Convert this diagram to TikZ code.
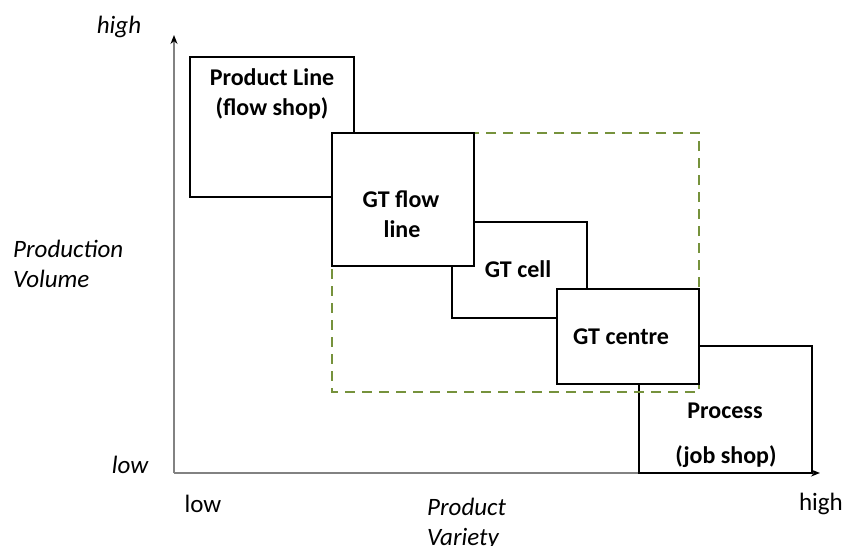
\documentclass[tikz,border=0pt]{standalone}
\usepackage{fontspec}
\setmainfont{Carlito}
\usetikzlibrary{arrows.meta}
\definecolor{scopegreen}{RGB}{118,146,60}
\definecolor{axisgray}{RGB}{130,130,130}
\begin{document}
\begin{tikzpicture}[x=1pt,y=-1pt,
  stage/.style={draw=black, line width=2.3pt, fill=white},
  axisline/.style={draw=axisgray, line width=1.4pt, -{Stealth[length=9pt,width=7pt,black]}},
  scopebox/.style={draw=scopegreen, line width=2.3pt, dash pattern=on 10pt off 7pt},
  stagetext/.style={font=\fontsize{24}{30}\selectfont\bfseries, inner sep=0pt},
  axistext/.style={font=\fontsize{25}{30}\selectfont\itshape, inner sep=0pt},
  ticktext/.style={font=\fontsize{25}{30}\selectfont, inner sep=0pt}]
\useasboundingbox (0,0) rectangle (847,546);

% axes
\coordinate (origin) at (174,473);
\coordinate (ytip) at (174,35);
\coordinate (xtip) at (820,473);
\draw[axisline] (origin) -- (ytip);
\draw[axisline] (origin) -- (xtip);

% stages, back to front
\draw[stage] (190,57) rectangle (354,197);
\draw[stage] (639,346) rectangle (812,473);
\draw[stage] (452,222) rectangle (587,318);
\draw[scopebox] (332,133) rectangle (699,392);
\draw[stage] (332,133) rectangle (474,266);
\draw[stage] (557,289) rectangle (699,384);

% stage labels
\node[stagetext, anchor=base] (pl1) at (272,85) {Product Line};
\node[stagetext, anchor=base] (pl2) at (272,115) {(flow shop)};
\node[stagetext, anchor=base] (fl1) at (401,207) {GT flow};
\node[stagetext, anchor=base] (fl2) at (402,237) {line};
\node[stagetext, anchor=base] (cell) at (518,277) {GT cell};
\node[stagetext, anchor=base] (centre) at (621,344) {GT centre};
\node[stagetext, anchor=base] (pr1) at (725,418) {Process};
\node[stagetext, anchor=base] (pr2) at (726,463) {(job shop)};

% axis labels
\node[axistext, anchor=base] (yhigh) at (119,33) {high};
\node[axistext, anchor=base] (ylow) at (130,473) {low};
\node[axistext, anchor=base west] (yname1) at (13,257) {Production};
\node[axistext, anchor=base west] (yname2) at (13,287) {Volume};
\node[ticktext, anchor=base] (xlow) at (203,512) {low};
\node[ticktext, anchor=base] (xhigh) at (821,510) {high};
\node[axistext, anchor=base west] (xname1) at (427,515) {Product};
\node[axistext, anchor=base west] (xname2) at (427,545) {Variety};
\end{tikzpicture}
\end{document}
